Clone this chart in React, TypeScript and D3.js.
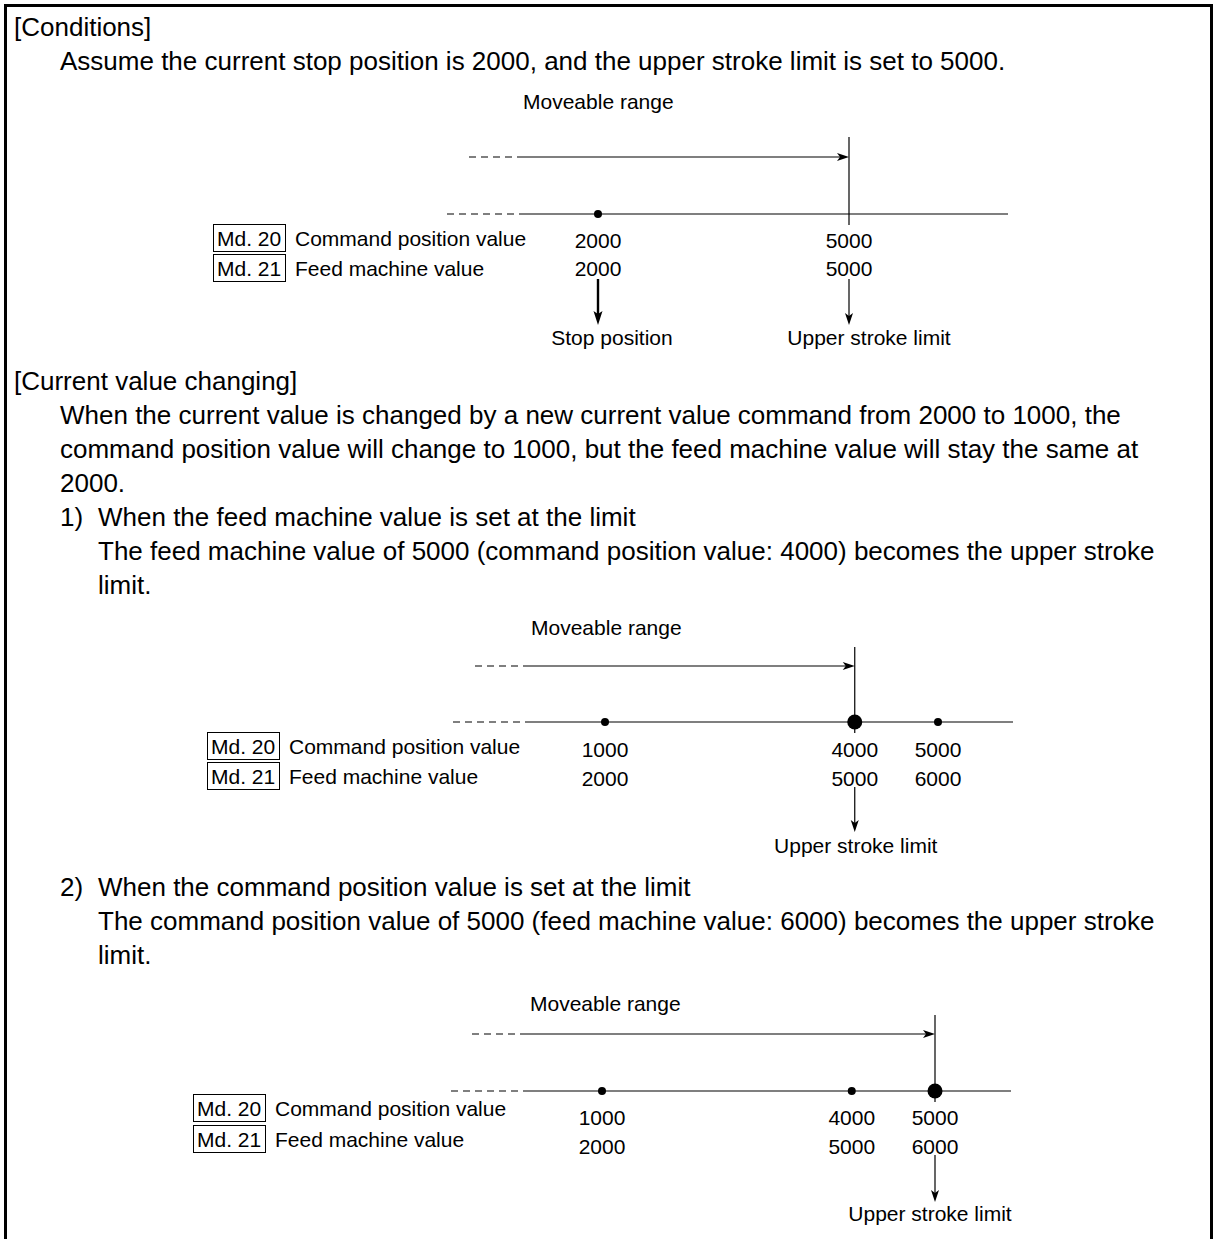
import React from "react";
import * as d3 from "d3";

// ---------- data ----------
const conditionsTitle = "[Conditions]";
const conditionsText = "Assume the current stop position is 2000, and the upper stroke limit is set to 5000.";
const changingTitle = "[Current value changing]";
const changingText = [
  "When the current value is changed by a new current value command from 2000 to 1000, the",
  "command position value will change to 1000, but the feed machine value will stay the same at",
  "2000.",
];
const case1Title = "When the feed machine value is set at the limit";
const case1Text = [
  "The feed machine value of 5000 (command position value: 4000) becomes the upper stroke",
  "limit.",
];
const case2Title = "When the command position value is set at the limit";
const case2Text = [
  "The command position value of 5000 (feed machine value: 6000) becomes the upper stroke",
  "limit.",
];

const rowLabels = ["Command position value", "Feed machine value"];
const rowCodes = ["Md. 20", "Md. 21"];
const rangeLabel = "Moveable range";

const command1 = [2000, 5000];
const feed1 = [2000, 5000];
const limitIndex1 = 1;
const command2 = [1000, 4000, 5000];
const feed2 = [2000, 5000, 6000];
const limitIndex2 = 1;
const command3 = [1000, 4000, 5000];
const feed3 = [2000, 5000, 6000];
const limitIndex3 = 2;

const BODY = 26;
const DIAG = 21;
const FONT = "'Liberation Sans', Arial, sans-serif";

type DiagProps = {
  cmd: number[];
  feed: number[];
  limitIdx: number;
  domain: [number, number];
  range: [number, number];
  dots: boolean[];
  stopArrow: boolean;
  labelX: number;
  rangeTextX: number;
  rangeY: number;
  arrowY: number;
  arrowDash: number;
  axisY: number;
  axisDash: number;
  solidStart: number;
  axisEnd: number;
  vTop: number;
  vBot: number;
  rowY: number[];
  labelRowY: number[];
  arrowTop: number;
  arrowTip: number;
  bottomY: number;
  limitLabelDx: number;
};

function ArrowHead({ x, y, dir, len = 12, half = 4 }: { x: number; y: number; dir: "right" | "down"; len?: number; half?: number }) {
  const p = dir === "right"
    ? `M${x},${y} L${x - len},${y - half} L${x - len + 3},${y} L${x - len},${y + half} Z`
    : `M${x},${y} L${x - half},${y - len} L${x},${y - len + 3} L${x + half},${y - len} Z`;
  return <path d={p} fill="#000" />;
}

function Diagram(p: DiagProps) {
  const x = d3.scaleLinear().domain(p.domain).range(p.range);
  const limitX = x(p.cmd[p.limitIdx]);
  const base = DIAG * 0.36;
  const line = d3.line<[number, number]>();
  return (
    <g fontFamily={FONT} fontSize={DIAG} fill="#000">
      <text x={p.rangeTextX} y={p.rangeY + base}>{rangeLabel}</text>
      {/* moveable range arrow */}
      <path d={line([[p.arrowDash, p.arrowY], [p.solidStart, p.arrowY]]) as string} stroke="#000" strokeWidth={1.2} strokeDasharray="7,5" fill="none" />
      <path d={line([[p.solidStart, p.arrowY], [limitX - 8, p.arrowY]]) as string} stroke="#000" strokeWidth={1.2} fill="none" />
      <ArrowHead x={limitX} y={p.arrowY} dir="right" />
      {/* axis */}
      <path d={line([[p.axisDash, p.axisY], [p.solidStart, p.axisY]]) as string} stroke="#000" strokeWidth={1.2} strokeDasharray="7,5" fill="none" />
      <path d={line([[p.solidStart, p.axisY], [p.axisEnd, p.axisY]]) as string} stroke="#000" strokeWidth={1.2} fill="none" />
      <path d={line([[limitX, p.vTop], [limitX, p.vBot]]) as string} stroke="#000" strokeWidth={1.2} fill="none" />
      {p.cmd.map((v, i) => (
        p.dots[i] ? <circle key={"d" + i} cx={x(v)} cy={p.axisY} r={i === p.limitIdx ? 7.5 : 4} fill="#000" /> : null
      ))}
      {/* row labels */}
      {rowCodes.map((c, i) => (
        <g key={c}>
          <rect x={p.labelX + 0.5} y={p.labelRowY[i] - 13.5} width={72} height={27} fill="none" stroke="#000" strokeWidth={1} />
          <text x={p.labelX + 4} y={p.labelRowY[i] + base}>{c}</text>
          <text x={p.labelX + 82} y={p.labelRowY[i] + base}>{rowLabels[i]}</text>
        </g>
      ))}
      {p.cmd.map((v, i) => (
        <text key={"c" + i} x={x(v)} y={p.rowY[0] + base} textAnchor="middle">{v}</text>
      ))}
      {p.feed.map((v, i) => (
        <text key={"f" + i} x={x(p.cmd[i])} y={p.rowY[1] + base} textAnchor="middle">{v}</text>
      ))}
      {/* down arrows */}
      {p.stopArrow && (
        <g>
          <path d={line([[x(p.cmd[0]), p.arrowTop], [x(p.cmd[0]), p.arrowTip - 8]]) as string} stroke="#000" strokeWidth={2.4} fill="none" />
          <ArrowHead x={x(p.cmd[0])} y={p.arrowTip} dir="down" len={14} half={4.5} />
          <text x={x(p.cmd[0]) + 14} y={p.bottomY + base} textAnchor="middle">Stop position</text>
        </g>
      )}
      <path d={line([[limitX, p.arrowTop], [limitX, p.arrowTip - 8]]) as string} stroke="#000" strokeWidth={1.2} fill="none" />
      <ArrowHead x={limitX} y={p.arrowTip} dir="down" />
      <text x={limitX + p.limitLabelDx} y={p.bottomY + base} textAnchor="middle">Upper stroke limit</text>
    </g>
  );
}

export default function App() {
  const bb = BODY * 0.36;
  const L0 = 14, L1 = 60, L2 = 98;
  return (
    <svg width={1214} height={1239} style={{ position: "absolute", left: 0, top: 0, display: "block", background: "#fff" }}>
      <rect x={0} y={0} width={1214} height={1239} fill="#fff" />
      {/* frame */}
      <rect x={4} y={4} width={1209} height={3} fill="#000" />
      <rect x={4} y={4} width={3} height={1235} fill="#000" />
      <rect x={1210} y={4} width={3} height={1235} fill="#000" />

      <g fontFamily={FONT} fontSize={BODY} fill="#000">
        <text x={L0} y={27 + bb}>{conditionsTitle}</text>
        <text x={L1} y={61 + bb}>{conditionsText}</text>
        <text x={L0} y={381 + bb}>{changingTitle}</text>
        {changingText.map((t, i) => (
          <text key={"ct" + i} x={L1} y={415 + i * 34 + bb}>{t}</text>
        ))}
        <text x={L1} y={517 + bb}>1)</text>
        <text x={L2} y={517 + bb}>{case1Title}</text>
        {case1Text.map((t, i) => (
          <text key={"c1" + i} x={L2} y={551 + i * 34 + bb}>{t}</text>
        ))}
        <text x={L1} y={887 + bb}>2)</text>
        <text x={L2} y={887 + bb}>{case2Title}</text>
        {case2Text.map((t, i) => (
          <text key={"c2" + i} x={L2} y={921 + i * 34 + bb}>{t}</text>
        ))}
      </g>

      <Diagram cmd={command1} feed={feed1} limitIdx={limitIndex1} domain={[2000, 5000]} range={[598, 849]}
        dots={[true, false]} stopArrow={true} labelX={213} rangeTextX={523} rangeY={101} arrowY={157}
        arrowDash={469} axisY={214} axisDash={447} solidStart={522} axisEnd={1008} vTop={137} vBot={225}
        rowY={[240, 268]} labelRowY={[238, 268]} arrowTop={279} arrowTip={325} bottomY={337} limitLabelDx={20} />

      <Diagram cmd={command2} feed={feed2} limitIdx={limitIndex2} domain={[1000, 5000]} range={[605, 938]}
        dots={[true, true, true]} stopArrow={false} labelX={207} rangeTextX={531} rangeY={627} arrowY={666}
        arrowDash={475} axisY={722} axisDash={453} solidStart={529} axisEnd={1013} vTop={647} vBot={733}
        rowY={[749, 778]} labelRowY={[746, 776]} arrowTop={787} arrowTip={832} bottomY={845} limitLabelDx={1} />

      <Diagram cmd={command3} feed={feed3} limitIdx={limitIndex3} domain={[1000, 5000]} range={[602, 935]}
        dots={[true, true, true]} stopArrow={false} labelX={193} rangeTextX={530} rangeY={1003} arrowY={1034}
        arrowDash={472} axisY={1091} axisDash={451} solidStart={526} axisEnd={1011} vTop={1015} vBot={1102}
        rowY={[1117, 1146]} labelRowY={[1108, 1139]} arrowTop={1155} arrowTip={1202} bottomY={1213} limitLabelDx={-5} />
    </svg>
  );
}
